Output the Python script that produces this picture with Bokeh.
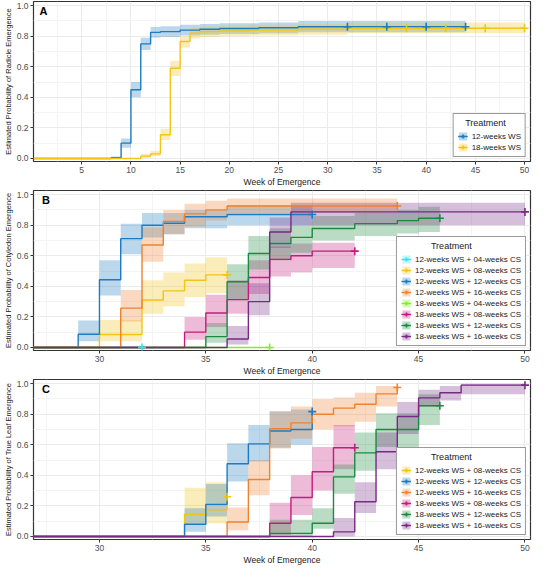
from bokeh.plotting import figure
from bokeh.models import Range1d, FixedTicker, PrintfTickFormatter, Legend, LegendItem, Label
from bokeh.layouts import column
from bokeh.embed import file_html
from bokeh.resources import INLINE
import numpy as np

FONT = "Liberation Sans"

# ---------------- Panel A: radicle emergence ----------------
A_ws12_t   = [0, 8, 9, 10, 11, 12, 13, 15, 17, 19, 23, 27]
A_ws12_est = [0, 0.005, 0.10, 0.45, 0.75, 0.825, 0.83, 0.84, 0.845, 0.85, 0.855, 0.862]
A_ws12_lo  = [0, 0.0, 0.07, 0.40, 0.71, 0.79, 0.795, 0.805, 0.81, 0.815, 0.82, 0.826]
A_ws12_hi  = [0, 0.012, 0.13, 0.50, 0.79, 0.86, 0.865, 0.875, 0.88, 0.885, 0.89, 0.90]
A_ws12_end = 44
A_ws12_cens = [32, 36, 40, 44]

A_ws18_t   = [0, 11, 12, 13, 14, 15, 16, 17, 19, 22, 27, 32]
A_ws18_est = [0, 0.015, 0.03, 0.155, 0.59, 0.765, 0.82, 0.83, 0.835, 0.84, 0.845, 0.852]
A_ws18_lo  = [0, 0.003, 0.015, 0.12, 0.54, 0.725, 0.785, 0.795, 0.80, 0.805, 0.81, 0.82]
A_ws18_hi  = [0, 0.03, 0.05, 0.195, 0.64, 0.80, 0.855, 0.865, 0.87, 0.875, 0.88, 0.89]
A_ws18_end = 50
A_ws18_cens = [38, 42, 46, 50]

# ---------------- Panel B: cotyledon emergence ----------------
B_12_04_t, B_12_04_est, B_12_04_lo, B_12_04_hi = [0], [0], [0], [0]
B_12_04_end, B_12_04_cens = 32, [32]

B_12_08_t   = [0, 30, 32, 33, 34, 35]
B_12_08_est = [0, 0.085, 0.31, 0.37, 0.44, 0.475]
B_12_08_lo  = [0, 0.04, 0.22, 0.27, 0.33, 0.355]
B_12_08_hi  = [0, 0.18, 0.44, 0.49, 0.55, 0.59]
B_12_08_end, B_12_08_cens = 36, [36]

B_12_12_t   = [0, 29, 30, 31, 32, 33, 34, 36]
B_12_12_est = [0, 0.086, 0.443, 0.712, 0.80, 0.813, 0.855, 0.87]
B_12_12_lo  = [0, 0.04, 0.34, 0.61, 0.72, 0.74, 0.78, 0.80]
B_12_12_hi  = [0, 0.176, 0.57, 0.81, 0.88, 0.88, 0.90, 0.93]
B_12_12_end, B_12_12_cens = 40, [40]

B_12_16_t   = [0, 31, 32, 33, 34, 35, 36]
B_12_16_est = [0, 0.257, 0.67, 0.825, 0.874, 0.90, 0.926]
B_12_16_lo  = [0, 0.17, 0.56, 0.74, 0.79, 0.83, 0.88]
B_12_16_hi  = [0, 0.376, 0.785, 0.90, 0.94, 0.96, 0.975]
B_12_16_end, B_12_16_cens = 44, [44]

B_18_04_t, B_18_04_est, B_18_04_lo, B_18_04_hi = [0], [0], [0], [0]
B_18_04_end, B_18_04_cens = 38, [38]

B_18_08_t   = [0, 34, 35, 36, 37, 38, 39, 40]
B_18_08_est = [0, 0.10, 0.225, 0.313, 0.458, 0.576, 0.60, 0.63]
B_18_08_lo  = [0, 0.05, 0.134, 0.22, 0.35, 0.465, 0.49, 0.52]
B_18_08_hi  = [0, 0.20, 0.345, 0.44, 0.57, 0.66, 0.68, 0.685]
B_18_08_end, B_18_08_cens = 42, [42]

B_18_12_t   = [0, 35, 36, 37, 38, 39, 40, 42, 44, 45]
B_18_12_est = [0, 0.071, 0.43, 0.615, 0.68, 0.72, 0.778, 0.81, 0.83, 0.845]
B_18_12_lo  = [0, 0.03, 0.31, 0.51, 0.57, 0.62, 0.70, 0.73, 0.745, 0.755]
B_18_12_hi  = [0, 0.16, 0.545, 0.73, 0.78, 0.80, 0.86, 0.88, 0.90, 0.92]
B_18_12_end, B_18_12_cens = 46, [46]

B_18_16_t   = [0, 36, 37, 38, 39]
B_18_16_est = [0, 0.055, 0.30, 0.755, 0.887]
B_18_16_lo  = [0, 0.02, 0.21, 0.65, 0.80]
B_18_16_hi  = [0, 0.14, 0.42, 0.85, 0.947]
B_18_16_end, B_18_16_cens = 50, [50]

# ---------------- Panel C: true leaf emergence ----------------
C_12_08_t   = [0, 34, 35, 36]
C_12_08_est = [0, 0.145, 0.175, 0.26]
C_12_08_lo  = [0, 0.085, 0.085, 0.26]
C_12_08_hi  = [0, 0.318, 0.354, 0.26]
C_12_08_end, C_12_08_cens = 36, [36]

C_12_12_t   = [0, 34, 35, 36, 37, 38, 39, 40]
C_12_12_est = [0, 0.08, 0.21, 0.476, 0.606, 0.69, 0.70, 0.817]
C_12_12_lo  = [0, 0.03, 0.13, 0.36, 0.49, 0.58, 0.60, 0.817]
C_12_12_hi  = [0, 0.185, 0.343, 0.61, 0.73, 0.82, 0.83, 0.817]
C_12_12_end, C_12_12_cens = 40, [40]

C_12_16_t   = [0, 36, 37, 38, 39, 40, 41, 42, 43, 44]
C_12_16_est = [0, 0.095, 0.373, 0.705, 0.743, 0.80, 0.84, 0.865, 0.933, 0.975]
C_12_16_lo  = [0, 0.04, 0.27, 0.575, 0.64, 0.70, 0.72, 0.75, 0.85, 0.975]
C_12_16_hi  = [0, 0.19, 0.50, 0.817, 0.85, 0.90, 0.91, 0.94, 0.985, 0.975]
C_12_16_end, C_12_16_cens = 44, [44]

C_18_08_t   = [0, 38, 39, 40, 41]
C_18_08_est = [0, 0.086, 0.255, 0.423, 0.58]
C_18_08_lo  = [0, 0.01, 0.14, 0.30, 0.44]
C_18_08_hi  = [0, 0.22, 0.40, 0.585, 0.73]
C_18_08_end, C_18_08_cens = 42, [42]

C_18_12_t   = [0, 38, 40, 41, 42, 43, 45]
C_18_12_est = [0, 0.02, 0.086, 0.39, 0.547, 0.70, 0.855]
C_18_12_lo  = [0, 0.0, 0.05, 0.28, 0.43, 0.585, 0.73]
C_18_12_hi  = [0, 0.11, 0.185, 0.47, 0.68, 0.806, 0.93]
C_18_12_end, C_18_12_cens = 46, [46]

C_18_16_t   = [0, 41, 42, 43, 44, 45, 46, 47]
C_18_16_est = [0, 0.03, 0.227, 0.554, 0.785, 0.907, 0.94, 0.99]
C_18_16_lo  = [0, 0.0, 0.154, 0.44, 0.67, 0.85, 0.89, 0.93]
C_18_16_hi  = [0, 0.12, 0.354, 0.68, 0.88, 0.96, 0.985, 1.0]
C_18_16_end, C_18_16_cens = 50, [50]

# colours
COL = {
    "cyan": "#2EE6F2", "yellow": "#F2C416", "blue": "#1F7BBF", "orange": "#EE822F",
    "chart": "#80F020", "maroon": "#C51B7D", "green": "#1B8A40", "purple": "#762A83",
}

Y_TICKS = [0.0, 0.2, 0.4, 0.6, 0.8, 1.0]
Y_MINOR = [0.1, 0.3, 0.5, 0.7, 0.9]
NB = "\u00a0"


def make_panel(letter, ylabel, xr, xticks, xminor, series, height, letter_x, title_pad):
    p = figure(width=534, height=height, output_backend="svg", toolbar_location=None,
               x_range=Range1d(*xr), y_range=Range1d(-0.02, 1.027),
               min_border_left=2, min_border_right=4, min_border_top=1, min_border_bottom=1)
    p.background_fill_color = "white"
    p.border_fill_color = "white"
    p.outline_line_color = "#333333"
    p.outline_line_width = 1.2

    p.xaxis.ticker = FixedTicker(ticks=xticks, minor_ticks=xminor)
    p.yaxis.ticker = FixedTicker(ticks=Y_TICKS, minor_ticks=Y_MINOR)
    p.yaxis.formatter = PrintfTickFormatter(format="%.1f")
    p.xgrid.grid_line_color = "#EBEBEB"
    p.ygrid.grid_line_color = "#EBEBEB"
    p.xgrid.minor_grid_line_color = "#F4F4F4"
    p.ygrid.minor_grid_line_color = "#F4F4F4"
    for ax in (p.xaxis, p.yaxis):
        ax.axis_line_color = None
        ax.minor_tick_line_color = None
        ax.major_tick_line_color = "#333333"
        ax.major_tick_out = 3
        ax.major_tick_in = 0
        ax.major_label_text_font = FONT
        ax.major_label_text_font_size = "8.5px"
        ax.major_label_text_color = "#4D4D4D"
        ax.major_label_standoff = 1
        ax.axis_label_text_font = FONT
        ax.axis_label_text_font_style = "normal"
        ax.axis_label_text_color = "#1A1A1A"
        ax.axis_label_standoff = 1
    p.xaxis.axis_label = "Week of Emergence"
    p.xaxis.axis_label_text_font_size = "8.5px"
    p.yaxis.axis_label = ylabel
    p.yaxis.axis_label_text_font_size = "7.5px"

    bands, lines, marks = [], [], []
    for (label, color, t, est, lo, hi, end, cens) in series:
        t = list(t)
        right = t[1:] + [end]
        b = p.quad(left=t, right=right, bottom=lo, top=hi, fill_color=color,
                   fill_alpha=0.3, line_color=None)
        bands.append(b)
    for (label, color, t, est, lo, hi, end, cens) in series:
        xs = list(t) + [end]
        ys = list(est) + [est[-1]]
        l = p.step(x=xs, y=ys, mode="after", line_color=color, line_width=1.4)
        lines.append(l)
    for (label, color, t, est, lo, hi, end, cens) in series:
        ta = np.array(t, dtype=float)
        idx = np.searchsorted(ta, np.array(cens, dtype=float), side="right") - 1
        cy = [est[i] for i in idx]
        m = p.scatter(x=cens, y=cy, marker="cross", size=8, line_color=color, line_width=1.6)
        marks.append(m)

    items = [LegendItem(label=s[0], renderers=[bands[i], lines[i], marks[i]])
             for i, s in enumerate(series)]
    leg = Legend(items=items, location="bottom_right", title=NB * title_pad + "Treatment",
                 title_text_font=FONT, title_text_font_size="9px", title_text_font_style="normal",
                 title_text_color="#1A1A1A", title_standoff=3,
                 label_text_font=FONT, label_text_font_size="8px", label_text_color="#1A1A1A",
                 glyph_width=10, glyph_height=10, label_height=10, label_standoff=4,
                 spacing=1, padding=4, margin=4,
                 border_line_color="#333333", border_line_width=1.2,
                 background_fill_color="white", background_fill_alpha=1.0)
    p.add_layout(leg)

    p.add_layout(Label(x=letter_x, y=0.965, text=letter, text_font=FONT, text_font_style="bold",
                       text_font_size="11px", text_color="black", text_baseline="middle"))
    return p


seriesA = [
    ("12-weeks WS", COL["blue"], A_ws12_t, A_ws12_est, A_ws12_lo, A_ws12_hi, A_ws12_end, A_ws12_cens),
    ("18-weeks WS", COL["yellow"], A_ws18_t, A_ws18_est, A_ws18_lo, A_ws18_hi, A_ws18_end, A_ws18_cens),
]
seriesB = [
    ("12-weeks WS + 04-weeks CS", COL["cyan"], B_12_04_t, B_12_04_est, B_12_04_lo, B_12_04_hi, B_12_04_end, B_12_04_cens),
    ("12-weeks WS + 08-weeks CS", COL["yellow"], B_12_08_t, B_12_08_est, B_12_08_lo, B_12_08_hi, B_12_08_end, B_12_08_cens),
    ("12-weeks WS + 12-weeks CS", COL["blue"], B_12_12_t, B_12_12_est, B_12_12_lo, B_12_12_hi, B_12_12_end, B_12_12_cens),
    ("12-weeks WS + 16-weeks CS", COL["orange"], B_12_16_t, B_12_16_est, B_12_16_lo, B_12_16_hi, B_12_16_end, B_12_16_cens),
    ("18-weeks WS + 04-weeks CS", COL["chart"], B_18_04_t, B_18_04_est, B_18_04_lo, B_18_04_hi, B_18_04_end, B_18_04_cens),
    ("18-weeks WS + 08-weeks CS", COL["maroon"], B_18_08_t, B_18_08_est, B_18_08_lo, B_18_08_hi, B_18_08_end, B_18_08_cens),
    ("18-weeks WS + 12-weeks CS", COL["green"], B_18_12_t, B_18_12_est, B_18_12_lo, B_18_12_hi, B_18_12_end, B_18_12_cens),
    ("18-weeks WS + 16-weeks CS", COL["purple"], B_18_16_t, B_18_16_est, B_18_16_lo, B_18_16_hi, B_18_16_end, B_18_16_cens),
]
seriesC = [
    ("12-weeks WS + 08-weeks CS", COL["yellow"], C_12_08_t, C_12_08_est, C_12_08_lo, C_12_08_hi, C_12_08_end, C_12_08_cens),
    ("12-weeks WS + 12-weeks CS", COL["blue"], C_12_12_t, C_12_12_est, C_12_12_lo, C_12_12_hi, C_12_12_end, C_12_12_cens),
    ("12-weeks WS + 16-weeks CS", COL["orange"], C_12_16_t, C_12_16_est, C_12_16_lo, C_12_16_hi, C_12_16_end, C_12_16_cens),
    ("18-weeks WS + 08-weeks CS", COL["maroon"], C_18_08_t, C_18_08_est, C_18_08_lo, C_18_08_hi, C_18_08_end, C_18_08_cens),
    ("18-weeks WS + 12-weeks CS", COL["green"], C_18_12_t, C_18_12_est, C_18_12_lo, C_18_12_hi, C_18_12_end, C_18_12_cens),
    ("18-weeks WS + 16-weeks CS", COL["purple"], C_18_16_t, C_18_16_est, C_18_16_lo, C_18_16_hi, C_18_16_end, C_18_16_cens),
]

pA = make_panel("A", "Estimated Probability of Radicle Emergence", (0.1, 50.6),
                [5, 10, 15, 20, 25, 30, 35, 40, 45, 50],
                [2.5, 7.5, 12.5, 17.5, 22.5, 27.5, 32.5, 37.5, 42.5, 47.5], seriesA, 189, 0.7, 3)
pB = make_panel("B", "Estimated Probability of Cotyledon Emergence", (26.9, 50.26),
                [30, 35, 40, 45, 50], [27.5, 32.5, 37.5, 42.5, 47.5], seriesB, 189, 27.3, 12)
pC = make_panel("C", "Estimated Probability of True Leaf Emergence", (26.9, 50.26),
                [30, 35, 40, 45, 50], [27.5, 32.5, 37.5, 42.5, 47.5], seriesC, 189, 27.3, 12)

layout = column(pA, pB, pC, spacing=0)
open("out.html", "w").write(file_html(layout, INLINE))
